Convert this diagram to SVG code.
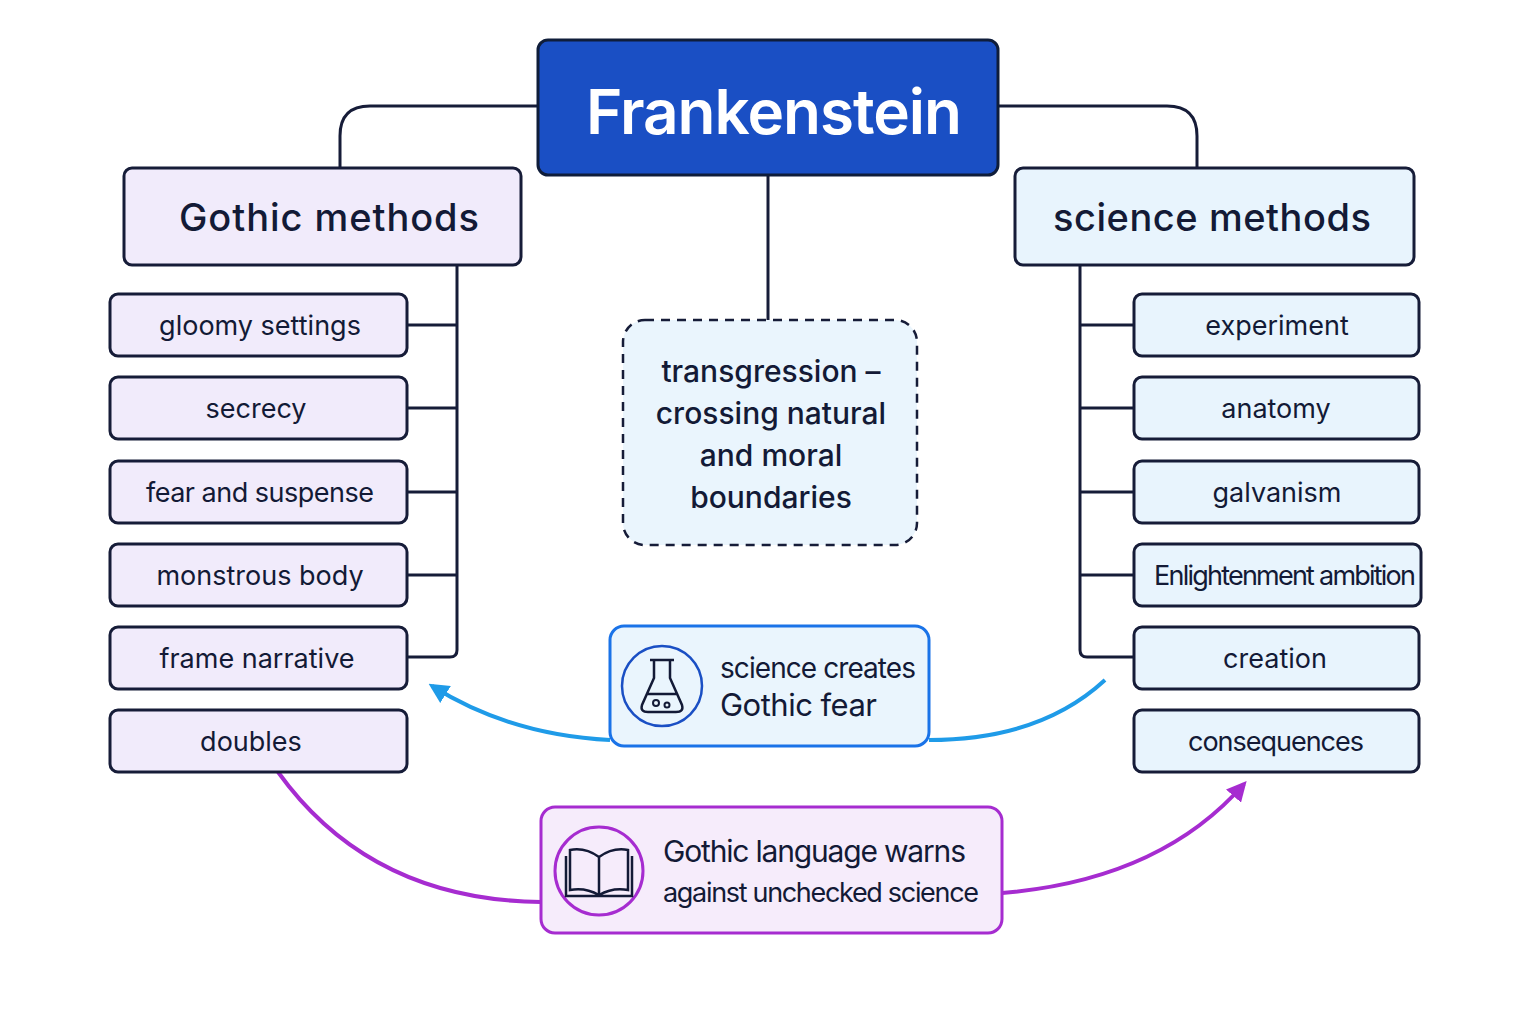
<svg xmlns="http://www.w3.org/2000/svg" width="1536" height="1024" viewBox="0 0 1536 1024">
<defs>
<style>
text{font-family:Inter,"Noto Sans",sans-serif;fill:#131a36}
.g{fill:#f1ebfb;stroke:#161c38;stroke-width:3}
.s{fill:#e8f4fd;stroke:#161c38;stroke-width:3}
.ln{fill:none;stroke:#161c38;stroke-width:3}
.it{font-size:27px;text-anchor:middle}
</style>
<marker id="ab" viewBox="0 0 10 10" refX="8" refY="5" markerWidth="5" markerHeight="5" orient="auto-start-reverse"><path d="M0,0L10,5L0,10z" fill="#1f9be8"/></marker>
<marker id="ap" viewBox="0 0 10 10" refX="8" refY="5" markerWidth="5" markerHeight="5" orient="auto-start-reverse"><path d="M0,0L10,5L0,10z" fill="#a62cd0"/></marker>
</defs>
<rect width="1536" height="1024" fill="#fff"/>
<g id="connectors">
<path class="ln" d="M538,106H370Q340,106 340,136V168"/>
<path class="ln" d="M998,106H1167Q1197,106 1197,136V168"/>
<path class="ln" d="M768,175V320"/>
<path class="ln" d="M457,265V650Q457,657 450,657H407M407,325H457M407,408H457M407,492H457M407,575H457"/>
<path class="ln" d="M1080,265V650Q1080,657 1087,657H1134M1080,325H1134M1080,408H1134M1080,492H1134M1080,575H1134"/>
<path d="M1105,680Q1040,740 929,740" fill="none" stroke="#1f9be8" stroke-width="4"/>
<path d="M610,740Q510,735 432,686" fill="none" stroke="#1f9be8" stroke-width="4" marker-end="url(#ab)"/>
<path d="M278,772Q370,900 541,902" fill="none" stroke="#a62cd0" stroke-width="4"/>
<path d="M1002,893Q1160,880 1244,784" fill="none" stroke="#a62cd0" stroke-width="4" marker-end="url(#ap)"/>
</g>
<g id="title"><rect x="538" y="40" width="460" height="135" rx="10" fill="#1a4fc4" stroke="#0f1d3a" stroke-width="3"/><text x="774" y="134" font-size="62" font-weight="600" text-anchor="middle" textLength="376" style="fill:#fff">Frankenstein</text></g>
<g id="gothic"><rect class="g" x="124" y="168" width="397" height="97" rx="8"/><text x="329" y="231" font-size="38" font-weight="500" text-anchor="middle" textLength="300">Gothic methods</text></g>
<g id="science"><rect class="s" x="1015" y="168" width="399" height="97" rx="8"/><text x="1212" y="231" font-size="38" font-weight="500" text-anchor="middle" textLength="318">science methods</text></g>
<g id="center"><rect x="623" y="320" width="294" height="225" rx="22" fill="#eaf5fd" stroke="#161c38" stroke-width="2.5" stroke-dasharray="9 7"/>
<text font-size="30" text-anchor="middle" font-weight="500"><tspan x="771" y="382">transgression –</tspan><tspan x="771" y="424">crossing natural</tspan><tspan x="771" y="466">and moral</tspan><tspan x="771" y="508">boundaries</tspan></text></g>
<g id="l1"><rect class="g" x="110" y="294" width="297" height="62" rx="8"/><text class="it" x="260" y="335">gloomy settings</text></g>
<g id="l2"><rect class="g" x="110" y="377" width="297" height="62" rx="8"/><text class="it" x="256" y="418">secrecy</text></g>
<g id="l3"><rect class="g" x="110" y="461" width="297" height="62" rx="8"/><text class="it" x="260" y="502" textLength="228">fear and suspense</text></g>
<g id="l4"><rect class="g" x="110" y="544" width="297" height="62" rx="8"/><text class="it" x="260" y="585">monstrous body</text></g>
<g id="l5"><rect class="g" x="110" y="627" width="297" height="62" rx="8"/><text class="it" x="257" y="668">frame narrative</text></g>
<g id="l6"><rect class="g" x="110" y="710" width="297" height="62" rx="8"/><text class="it" x="251" y="751">doubles</text></g>
<g id="r1"><rect class="s" x="1134" y="294" width="285" height="62" rx="8"/><text class="it" x="1277" y="335">experiment</text></g>
<g id="r2"><rect class="s" x="1134" y="377" width="285" height="62" rx="8"/><text class="it" x="1276" y="418">anatomy</text></g>
<g id="r3"><rect class="s" x="1134" y="461" width="285" height="62" rx="8"/><text class="it" x="1277" y="502">galvanism</text></g>
<g id="r4"><rect class="s" x="1134" y="544" width="287" height="62" rx="8"/><text class="it" x="1285" y="585" font-size="25" textLength="262">Enlightenment ambition</text></g>
<g id="r5"><rect class="s" x="1134" y="627" width="285" height="62" rx="8"/><text class="it" x="1275" y="668">creation</text></g>
<g id="r6"><rect class="s" x="1134" y="710" width="285" height="62" rx="8"/><text class="it" x="1276" y="751" textLength="176">consequences</text></g>
<g id="bridge1"><rect x="610" y="626" width="319" height="120" rx="14" fill="#eaf5fd" stroke="#1a73e8" stroke-width="3"/>
<circle cx="662" cy="686" r="40" fill="none" stroke="#1a4fc4" stroke-width="2.5"/>
<path d="M654,660V678L642,705Q640,712 648,712H676Q684,712 682,705L670,678V660M650,660H674M646,694H678" fill="none" stroke="#131a36" stroke-width="2.5"/>
<circle cx="656" cy="703" r="3" fill="none" stroke="#131a36" stroke-width="2"/><circle cx="667" cy="705" r="2.5" fill="none" stroke="#131a36" stroke-width="2"/>
<text x="720" y="678" font-size="28" textLength="196">science creates</text><text x="720" y="716" font-size="31" textLength="157">Gothic fear</text></g>
<g id="bridge2"><rect x="541" y="807" width="461" height="126" rx="14" fill="#f6ecfb" stroke="#a62cd0" stroke-width="3"/>
<circle cx="599" cy="871" r="44" fill="none" stroke="#a62cd0" stroke-width="3"/>
<path d="M599,857Q585,847 570,850V890Q585,887 599,895Q613,887 628,890V850Q613,847 599,857V895M566,856V896H632V856" fill="none" stroke="#131a36" stroke-width="2.5"/>
<text x="663" y="862" font-size="30" textLength="303">Gothic language warns</text><text x="663" y="902" font-size="27" textLength="316">against unchecked science</text></g>
</svg>
